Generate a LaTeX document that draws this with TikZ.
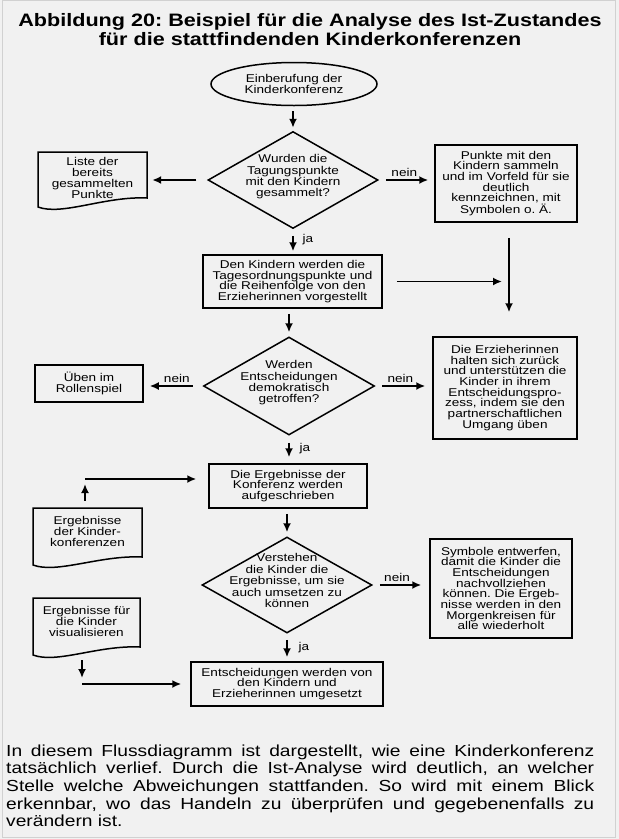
\documentclass[tikz,border=0pt]{standalone}
\usepackage{fontspec}
\newfontfamily\hv[FakeStretch=1.2]{Liberation Sans}
\usetikzlibrary{arrows.meta,shapes.geometric,calc}
\definecolor{bg}{RGB}{241,241,241}
\newcommand\boxfont{\hv\fontsize{11.3}{10.7}\selectfont}
\newcommand\dtext[1]{\makebox[0pt]{\raisebox{0pt}[0pt][0pt]{\begin{tabular}{@{}c@{}}#1\end{tabular}}}}
\begin{document}
\frenchspacing
\begin{tikzpicture}[x=1pt,y=-1pt,
  every node/.style={inner sep=0pt, font=\boxfont},
  box/.style={draw, line width=1.5pt, rectangle, align=center},
  dia/.style={draw, line width=1.5pt, diamond},
  ell/.style={draw, line width=1.5pt, ellipse, align=center},
  docnode/.style={rectangle, align=center},
  docline/.style={draw, line width=1.5pt, line join=miter},
  arr/.style={line width=1.8pt, -{Latex[length=9pt,width=8pt]}}
]
\fill[bg] (0,0) rectangle (619,839);
\useasboundingbox (0,0) rectangle (619,839);
\draw[black!18, line width=1pt] (2.5,0.5) rectangle (615.5,837.5);

% title
\node[font=\hv\bfseries\fontsize{18}{19}\selectfont, align=center, anchor=base] (title) at (310,45)
  {Abbildung 20: Beispiel für die Analyse des Ist-Zustandes\\für die stattfindenden Kinderkonferenzen};

% main column
\node[ell, minimum width=166pt, minimum height=43pt] (e1) at (294,84) {Einberufung der\\Kinderkonferenz};
\node[dia, minimum width=170pt, minimum height=97pt] (d1) at (293,180) {\dtext{Wurden die\\Tagungspunkte\\mit den Kindern\\gesammelt?}};
\node[box, minimum width=142pt, minimum height=77pt] (b1) at (506,183.5) {Punkte mit den\\Kindern sammeln\\und im Vorfeld für sie\\deutlich\\kennzeichnen, mit\\Symbolen o. Ä.};
\node[docnode, minimum width=109pt, minimum height=52pt] (liste) at (92.5,178) {Liste der\\bereits\\gesammelten\\Punkte};
\draw[docline] (38,152) -- (147,152) -- (147,198) .. controls (105,196) and (62,216) .. (38,207) -- cycle;

\node[box, minimum width=179pt, minimum height=53pt] (b2) at (292.5,281.5) {Den Kindern werden die\\Tagesordnungspunkte und\\die Reihenfolge von den\\Erzieherinnen vorgestellt};
\node[dia, minimum width=171pt, minimum height=98pt] (d2) at (289,386) {\dtext{Werden\\Entscheidungen\\demokratisch\\getroffen?}};
\node[box, minimum width=108pt, minimum height=37pt] (b3) at (89,383.5) {Üben im\\Rollenspiel};
\node[box, minimum width=144pt, minimum height=102pt] (b4) at (505,388) {Die Erzieherinnen\\halten sich zurück\\und unterstützen die\\Kinder in ihrem\\Entscheidungspro-\\zess, indem sie den\\partnerschaftlichen\\Umgang üben};
\node[box, minimum width=158pt, minimum height=44pt] (b5) at (288,486) {Die Ergebnisse der\\Konferenz werden\\aufgeschrieben};
\node[dia, minimum width=170pt, minimum height=96pt] (d3) at (287,585) {\dtext{Verstehen\\die Kinder die\\Ergebnisse, um sie\\auch umsetzen zu\\können}};
\node[box, minimum width=142pt, minimum height=99pt] (b6) at (501,588.5) {Symbole entwerfen,\\damit die Kinder die\\Entscheidungen\\nachvollziehen\\können. Die Ergeb-\\nisse werden in den\\Morgenkreisen für\\alle wiederholt};
\node[box, minimum width=192pt, minimum height=44pt] (b7) at (287,684) {Entscheidungen werden von\\den Kindern und\\Erzieherinnen umgesetzt};

\node[docnode, minimum width=109pt, minimum height=47pt] (erg1) at (87.5,531.5) {Ergebnisse\\der Kinder-\\konferenzen};
\draw[docline] (33,508) -- (142,508) -- (142,557) .. controls (100,555) and (57,574) .. (33,565) -- cycle;
\node[docnode, minimum width=107pt, minimum height=47pt] (erg2) at (86.5,621.5) {Ergebnisse für\\die Kinder\\visualisieren};
\draw[docline] (33,598) -- (140,598) -- (140,647) .. controls (98,645) and (57,664) .. (33,655) -- cycle;

\coordinate (jv) at (509,283);
\coordinate (c1) at (85,479);
\coordinate (c2) at (82,684);

% connectors
\draw[arr, shorten <=5pt, shorten >=3pt] (d1.north |- e1.south) -- (d1.north);
\draw[arr, shorten <=11pt, shorten >=5pt] (d1.west) -- (d1.west -| liste.east);
\draw[arr, shorten <=7pt, shorten >=6pt] (d1.east) -- node[pos=0.46, yshift=8pt]{nein} (d1.east -| b1.west);
\draw[arr, shorten <=6.5pt, shorten >=3pt] (d1.south) -- node[pos=0.43, xshift=15pt]{ja} (d1.south |- b2.north);
\draw[arr, shorten <=15pt, shorten >=24pt] (b1.south -| jv) -- (b4.north -| jv);
\draw[arr, shorten <=14pt, shorten >=7pt] (b2.east) -- (b2.east -| jv);
\draw[arr, shorten <=5pt, shorten >=4pt] (d2.north |- b2.south) -- (d2.north);
\draw[arr, shorten <=10pt, shorten >=6pt] (d2.west) -- node[pos=0.44, yshift=8pt]{nein} (d2.west -| b3.east);
\draw[arr, shorten <=7pt, shorten >=7pt] (d2.east) -- node[pos=0.44, yshift=8pt]{nein} (d2.east -| b4.west);
\draw[arr, shorten <=7pt, shorten >=6pt] (d2.south) -- node[pos=0.45, xshift=16pt]{ja} (d2.south |- b5.north);
\draw[arr, shorten <=7pt, shorten >=5pt] (erg1.north -| c1) -- (c1);
\draw[arr, shorten >=12pt] (c1) -- (c1 -| b5.west);
\draw[arr, shorten <=5pt, shorten >=4pt] (d3.north |- b5.south) -- (d3.north);
\draw[arr, shorten <=7pt, shorten >=8pt] (d3.east) -- node[pos=0.43, yshift=8pt]{nein} (d3.east -| b6.west);
\draw[arr, shorten <=6pt, shorten >=4pt] (d3.south) -- node[pos=0.52, xshift=17pt]{ja} (d3.south |- b7.north);
\draw[arr, shorten <=15pt, shorten >=6pt] (erg2.south -| c2) -- (c2);
\draw[arr, shorten >=9pt] (c2) -- (c2 -| b7.west);

% caption paragraph
\node[font=\hv\fontsize{16}{17.7}\selectfont, align=left, anchor=base west] (para) at (6,826.8)
  {\makebox[588pt][s]{In diesem Flussdiagramm ist dargestellt, wie eine Kinderkonferenz}\\
   \makebox[588pt][s]{tatsächlich verlief. Durch die Ist-Analyse wird deutlich, an welcher}\\
   \makebox[588pt][s]{Stelle welche Abweichungen stattfanden. So wird mit einem Blick}\\
   \makebox[588pt][s]{erkennbar, wo das Handeln zu überprüfen und gegebenenfalls zu}\\
   verändern ist.};
\end{tikzpicture}
\end{document}
